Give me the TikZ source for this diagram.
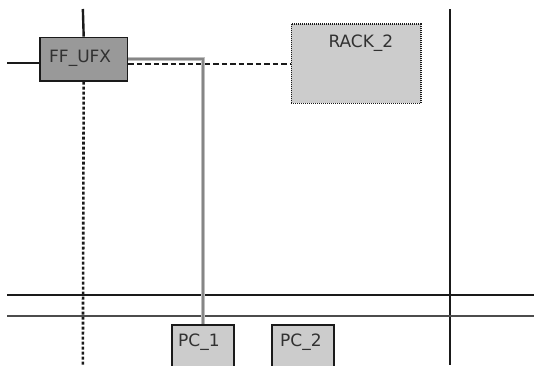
\documentclass[tikz,border=0pt]{standalone}
\usepackage{fontspec}
\setmainfont{DejaVu Sans}
\definecolor{ink}{HTML}{1A1A1A}
\definecolor{darkfill}{HTML}{999999}
\definecolor{lightfill}{HTML}{CCCCCC}
\begin{document}
\begin{tikzpicture}[x=1pt,y=-1pt,
  box/.style={draw=ink, line width=1.7pt, inner sep=0pt, anchor=north west},
  lbl/.style={font=\fontsize{17}{20}\selectfont, text=ink!90, inner sep=0pt, anchor=base west},
  wire/.style={line width=2.4pt, draw=ink},
  thinwire/.style={line width=1.7pt, draw=black!70},
  dotwire/.style={line width=2.6pt, draw=ink, dash pattern=on 3pt off 2pt},
  dashwire/.style={line width=2.4pt, draw=ink, dash pattern=on 5.5pt off 3pt},
  graywire/.style={line width=4.5pt, draw=gray!50},
  grayinner/.style={line width=2.5pt, draw=gray!95}]
\useasboundingbox (0,0) rectangle (534,365);
\clip (0,0) rectangle (534,365);

% boxes
\node[box, fill=darkfill, minimum width=87.7pt, minimum height=43.3pt] (ff) at (39,36.7) {};
\node[box, fill=lightfill, draw=ink, dash pattern=on 1pt off 1pt, line width=1.5pt, minimum width=129.3pt, minimum height=79.4pt] (rack) at (290.7,23.3) {};
\node[box, fill=lightfill, minimum width=62pt, minimum height=60pt] (pc1) at (171,324) {};
\node[box, fill=lightfill, minimum width=62pt, minimum height=60pt] (pc2) at (271,324) {};

% coordinates
\coordinate (fftop) at (82.85,9);
\coordinate (ffleft) at (7,62.7);
\coordinate (ffbot) at (82.85,365);
\coordinate (vtop) at (450,9);
\coordinate (vbot) at (450,365);
\coordinate (h1l) at (7,295);
\coordinate (h1r) at (534,295);
\coordinate (h2l) at (7,316);
\coordinate (h2r) at (534,316);

% lines
\draw[wire] (fftop) -- (ff.north);
\draw[wire] (ffleft) -- (ffleft -| ff.west);
\draw[dotwire] (ff.south) -- (ffbot);
\draw[dashwire] (rack.west -| ff.east) -- (rack.west);
\draw[wire] (vtop) -- (vbot);
\draw[wire] (h1l) -- (h1r);
\draw[thinwire] (h2l) -- (h2r);

% gray connector
\draw[graywire] (ff.east) -- (pc1.north |- ff.east) -- (pc1.north);
\draw[grayinner] (ff.east) -- (pc1.north |- ff.east) -- (pc1.north);

% labels
\node[lbl] (tff) at (49,62.5) {FF\_UFX};
\node[lbl] (track) at (328.3,47.3) {RACK\_2};
\node[lbl] (tpc1) at (178,346) {PC\_1};
\node[lbl] (tpc2) at (280,346) {PC\_2};
\end{tikzpicture}
\end{document}
